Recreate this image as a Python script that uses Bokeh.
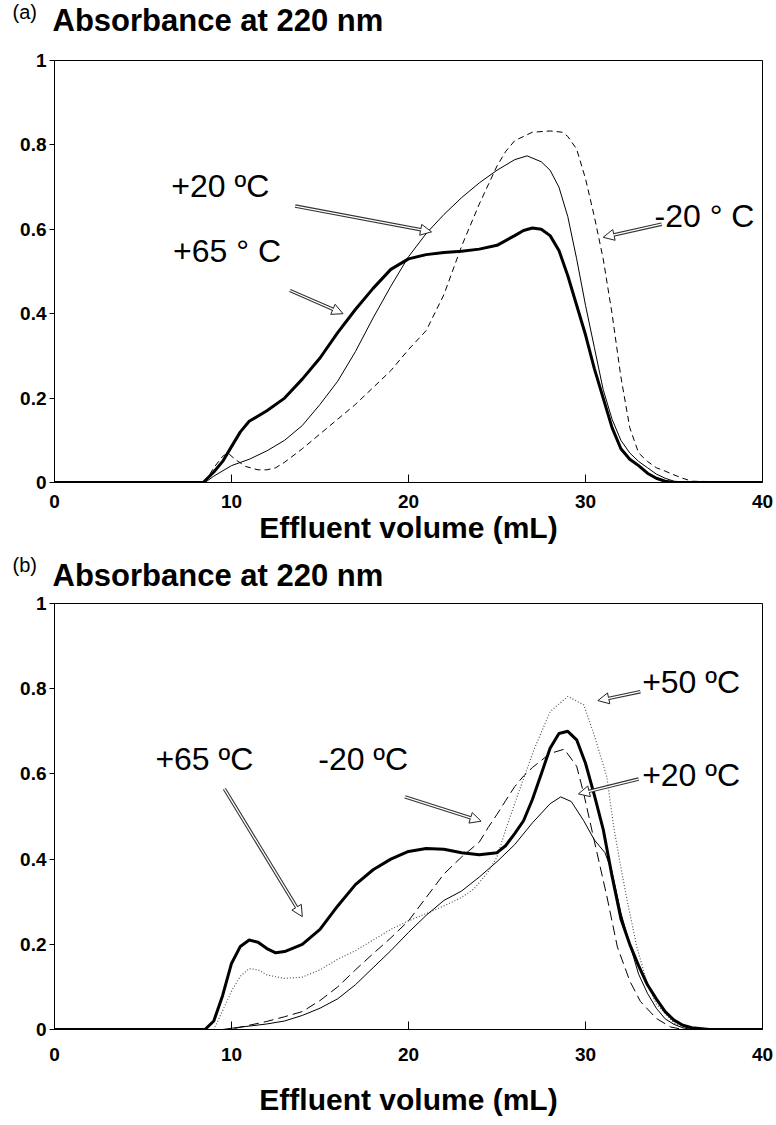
from bokeh.plotting import figure
from bokeh.models import Range1d, FixedTicker, Label, Arrow, NormalHead, Title
from bokeh.layouts import column
from bokeh.embed import file_html
from bokeh.resources import INLINE

# ---------------- data: panel (a) ----------------
a_x_65 = [0, 8.4, 9, 9.5, 10, 10.5, 11, 12, 13, 14, 15, 16, 17, 18, 19, 20, 21, 22, 23, 24, 25, 26, 26.5, 27, 27.5, 28,
          28.5, 29, 29.5, 30, 30.5, 31, 31.5, 32, 32.5, 33, 33.5, 34, 34.5, 35, 40]
a_y_65 = [0, 0, 0.025, 0.05, 0.085, 0.12, 0.145, 0.17, 0.2, 0.245, 0.295, 0.355, 0.41, 0.46, 0.505, 0.53, 0.54, 0.545,
          0.548, 0.553, 0.562, 0.585, 0.597, 0.603, 0.6, 0.585, 0.55, 0.49, 0.42, 0.35, 0.27, 0.2, 0.13, 0.08, 0.055,
          0.04, 0.022, 0.01, 0.003, 0, 0]
a_x_20 = [0, 8.5, 9, 10, 11, 12, 13, 14, 15, 16, 17, 18, 19, 20, 21, 22, 23, 24, 25, 26, 26.7, 27.5, 28, 28.5, 29,
          29.5, 30, 30.5, 31, 31.5, 32, 32.5, 33, 33.5, 34, 34.5, 35, 36, 40]
a_y_20 = [0, 0, 0.015, 0.04, 0.055, 0.075, 0.1, 0.135, 0.185, 0.24, 0.31, 0.39, 0.465, 0.535, 0.59, 0.635, 0.675, 0.71,
          0.74, 0.765, 0.774, 0.76, 0.74, 0.7, 0.63, 0.53, 0.42, 0.32, 0.22, 0.15, 0.1, 0.07, 0.05, 0.035, 0.02, 0.01,
          0.003, 0, 0]
a_x_m20 = [0, 8.5, 9, 9.5, 9.8, 10.2, 10.8, 11.5, 12, 12.5, 13, 14, 15, 16, 17, 18, 19, 20, 21, 22, 23, 24, 25, 25.5,
           26, 27, 28, 28.7, 29, 29.5, 30, 30.5, 31, 31.5, 32, 32.5, 33, 33.5, 34, 34.5, 35, 35.5, 36, 40]
a_y_m20 = [0, 0, 0.035, 0.062, 0.07, 0.055, 0.038, 0.03, 0.03, 0.035, 0.048, 0.08, 0.115, 0.15, 0.185, 0.225, 0.265,
           0.315, 0.36, 0.445, 0.56, 0.66, 0.75, 0.785, 0.81, 0.83, 0.833, 0.83, 0.82, 0.79, 0.72, 0.63, 0.53, 0.4,
           0.25, 0.13, 0.07, 0.05, 0.035, 0.027, 0.018, 0.01, 0.003, 0]

# ---------------- data: panel (b) ----------------
b_x_65 = [0, 8.5, 9, 9.5, 10, 10.5, 11, 11.5, 12, 12.5, 13, 14, 15, 16, 17, 18, 19, 20, 21, 22, 23, 24, 25, 25.5, 26,
          26.5, 27, 27.5, 28, 28.5, 29, 29.5, 30, 30.5, 31, 31.5, 32, 32.5, 33, 33.5, 34, 34.5, 35, 35.5, 36, 37, 40]
b_y_65 = [0, 0, 0.02, 0.08, 0.155, 0.195, 0.21, 0.205, 0.19, 0.18, 0.183, 0.2, 0.235, 0.29, 0.34, 0.375, 0.4, 0.418,
          0.425, 0.423, 0.415, 0.41, 0.415, 0.432, 0.46, 0.49, 0.54, 0.6, 0.66, 0.695, 0.7, 0.68, 0.625, 0.55, 0.47,
          0.36, 0.26, 0.2, 0.15, 0.105, 0.072, 0.042, 0.022, 0.01, 0.004, 0, 0]
b_x_20 = [0, 9.5, 10, 11, 12, 13, 14, 15, 16, 17, 18, 19, 20, 21, 22, 23, 24, 25, 26, 27, 28, 28.6, 29.2, 29.9, 30.5,
          31.1, 31.5, 32, 32.5, 33, 33.5, 34, 34.5, 35, 35.5, 36, 40]
b_y_20 = [0, 0, 0.003, 0.008, 0.013, 0.02, 0.033, 0.05, 0.072, 0.105, 0.145, 0.185, 0.228, 0.268, 0.303, 0.325, 0.358,
          0.394, 0.434, 0.485, 0.53, 0.546, 0.535, 0.49, 0.445, 0.415, 0.37, 0.274, 0.2, 0.13, 0.085, 0.05, 0.025,
          0.012, 0.004, 0, 0]
b_x_50 = [0, 9, 9.5, 10, 10.5, 11, 11.5, 12, 13, 14, 15, 16, 17, 18, 19, 20, 21, 22, 23, 23.7, 24.5, 25, 25.5, 26.2,
          27.1, 28, 29, 29.9, 30.5, 31.2, 31.6, 32, 32.3, 32.9, 33.5, 34, 34.4, 35, 35.5, 36, 40]
b_y_50 = [0, 0, 0.044, 0.09, 0.125, 0.143, 0.14, 0.128, 0.12, 0.123, 0.14, 0.165, 0.185, 0.21, 0.235, 0.255, 0.272,
          0.29, 0.31, 0.33, 0.37, 0.405, 0.47, 0.554, 0.658, 0.746, 0.782, 0.762, 0.69, 0.594, 0.474, 0.38, 0.314,
          0.194, 0.106, 0.06, 0.042, 0.015, 0.006, 0.002, 0]
b_x_m20 = [0, 9.9, 11, 12, 13, 14, 15, 16, 17, 18, 19, 20, 21, 22, 23, 24, 24.5, 25, 25.5, 26, 26.5, 27, 28, 28.8,
           29.5, 29.9, 30.5, 31.2, 31.8, 32.5, 33.1, 34, 34.8, 35.5, 40]
b_y_m20 = [0, 0, 0.01, 0.019, 0.03, 0.042, 0.068, 0.1, 0.14, 0.178, 0.215, 0.255, 0.31, 0.365, 0.405, 0.44, 0.474,
           0.505, 0.538, 0.57, 0.595, 0.615, 0.648, 0.658, 0.618, 0.554, 0.442, 0.314, 0.194, 0.114, 0.066, 0.026,
           0.006, 0, 0]

# ---------------- axes / text ----------------
x_ticks = [0, 10, 20, 30, 40]
y_ticks = [0, 0.2, 0.4, 0.6, 0.8, 1]
y_tick_labels = ["0", "0.2", "0.4", "0.6", "0.8", "1"]
title_text = "Absorbance at 220 nm"
xlabel_text = "Effluent volume (mL)"
panel_tags = ["(a)", "(b)"]

# annotation texts and anchor points (data units)
a_labels = [("+20 ºC", 6.6, 0.703), ("+65 ° C", 6.7, 0.548), ("-20 ° C", 33.9, 0.632)]
a_arrows = [(13.6, 0.655, 21.3, 0.594), (13.3, 0.455, 16.3, 0.4), (34.3, 0.612, 31.0, 0.581)]
b_labels = [("+65 ºC", 5.7, 0.635), ("-20 ºC", 14.9, 0.635), ("+50 ºC", 33.2, 0.816), ("+20 ºC", 33.2, 0.598)]
b_arrows = [(9.6, 0.565, 14.0, 0.265), (19.8, 0.546, 24.1, 0.489), (33.1, 0.793, 30.7, 0.772),
            (33.0, 0.588, 29.6, 0.553)]

FONT = "Liberation Sans"
W = 774
LEFT, RIGHT = 54, 12


def make_fig(height, bottom, tick_standoff, label_standoff, tag, pad_standoff, title_standoff, tag_standoff):
    p = figure(width=W, height=height, x_range=Range1d(0, 40), y_range=Range1d(0, 1),
               output_backend="svg", toolbar_location=None,
               min_border_left=LEFT, min_border_right=RIGHT, min_border_top=0, min_border_bottom=bottom)
    p.xgrid.visible = False
    p.ygrid.visible = False
    p.outline_line_color = "black"
    p.outline_line_width = 1
    p.background_fill_color = "white"
    p.border_fill_color = "white"

    # invisible pad (nearest the frame), then the heading, then the panel tag
    pad_title = Title(text=" ", align="left", text_font=FONT, text_font_size="20px", text_color="white",
                      standoff=pad_standoff)
    main_title = Title(text=title_text, align="left", offset=-2, text_font=FONT, text_font_style="bold",
                       text_font_size="31px", text_color="black", standoff=title_standoff)
    tag_title = Title(text=tag, align="left", offset=-42, text_font=FONT, text_font_style="normal",
                      text_font_size="20px", text_color="black", standoff=tag_standoff)
    p.title = None
    p.above = [pad_title, main_title, tag_title]

    p.xaxis.ticker = FixedTicker(ticks=x_ticks)
    p.xaxis.major_tick_in = 8
    p.xaxis.major_tick_out = 0
    p.xaxis.minor_tick_line_color = None
    p.xaxis.major_label_text_font = FONT
    p.xaxis.major_label_text_font_style = "bold"
    p.xaxis.major_label_text_font_size = "19px"
    p.xaxis.major_label_text_color = "black"
    p.xaxis.major_label_standoff = tick_standoff
    p.xaxis.axis_label = xlabel_text
    p.xaxis.axis_label_text_font = FONT
    p.xaxis.axis_label_text_font_style = "bold"
    p.xaxis.axis_label_text_font_size = "30px"
    p.xaxis.axis_label_text_color = "black"
    p.xaxis.axis_label_standoff = label_standoff
    p.xaxis.axis_line_color = "black"

    p.yaxis.ticker = FixedTicker(ticks=y_ticks)
    p.yaxis.major_label_overrides = {t: s for t, s in zip(y_ticks, y_tick_labels)}
    p.yaxis.major_tick_in = 0
    p.yaxis.major_tick_out = 5
    p.yaxis.minor_tick_line_color = None
    p.yaxis.major_label_text_font = FONT
    p.yaxis.major_label_text_font_style = "bold"
    p.yaxis.major_label_text_font_size = "19px"
    p.yaxis.major_label_text_color = "black"
    p.yaxis.major_label_standoff = 3
    p.yaxis.axis_line_color = "black"
    return p


def add_labels(p, labels, arrows, sx, sy):
    for t, x, y in labels:
        p.add_layout(Label(x=x, y=y, text=t, text_font=FONT, text_font_size="32px", text_color="black",
                           text_baseline="middle", text_align="left"))
    for x0, y0, x1, y1 in arrows:
        p.add_layout(Arrow(x_start=x0, y_start=y0, x_end=x1, y_end=y1, line_width=3.5, line_color="#333333",
                           end=NormalHead(size=11, fill_color="white", line_color="#222222", line_width=1)))
        # hollow-looking shaft: white core stopping before the head
        dx, dy = (x1 - x0) * sx, (y1 - y0) * sy
        L = (dx * dx + dy * dy) ** 0.5
        f = max(0.0, (L - 10) / L)
        p.add_layout(Arrow(x_start=x0, y_start=y0, x_end=x0 + (x1 - x0) * f, y_end=y0 + (y1 - y0) * f,
                           line_width=1.3, line_color="white", end=None))


# panel (a): top border 62 = 24 (pad) + 38 (heading) + 0 (tag)
pa = make_fig(62 + 420 + 71, 71, 12, 0, panel_tags[0], -1, 0, -44)
pa.line(a_x_m20, a_y_m20, line_color="black", line_width=1, line_dash="6 4")
pa.line(a_x_20, a_y_20, line_color="black", line_width=1)
pa.line(a_x_65, a_y_65, line_color="black", line_width=3)
add_labels(pa, a_labels, a_arrows, 17.7, 420)

# panel (b): top border 52 = 10 (pad) + 42 (heading) + 0 (tag)
pb = make_fig(52 + 425 + 88, 88, 18, 19, panel_tags[1], -15, 4, -44)
pb.line(b_x_50, b_y_50, line_color="#555555", line_width=1.2, line_dash="1 2")
pb.line(b_x_m20, b_y_m20, line_color="black", line_width=1, line_dash="10 5")
pb.line(b_x_20, b_y_20, line_color="black", line_width=1)
pb.line(b_x_65, b_y_65, line_color="black", line_width=3)
add_labels(pb, b_labels, b_arrows, 17.7, 425)

layout = column(pa, pb)
open("out.html", "w").write(file_html(layout, INLINE))
